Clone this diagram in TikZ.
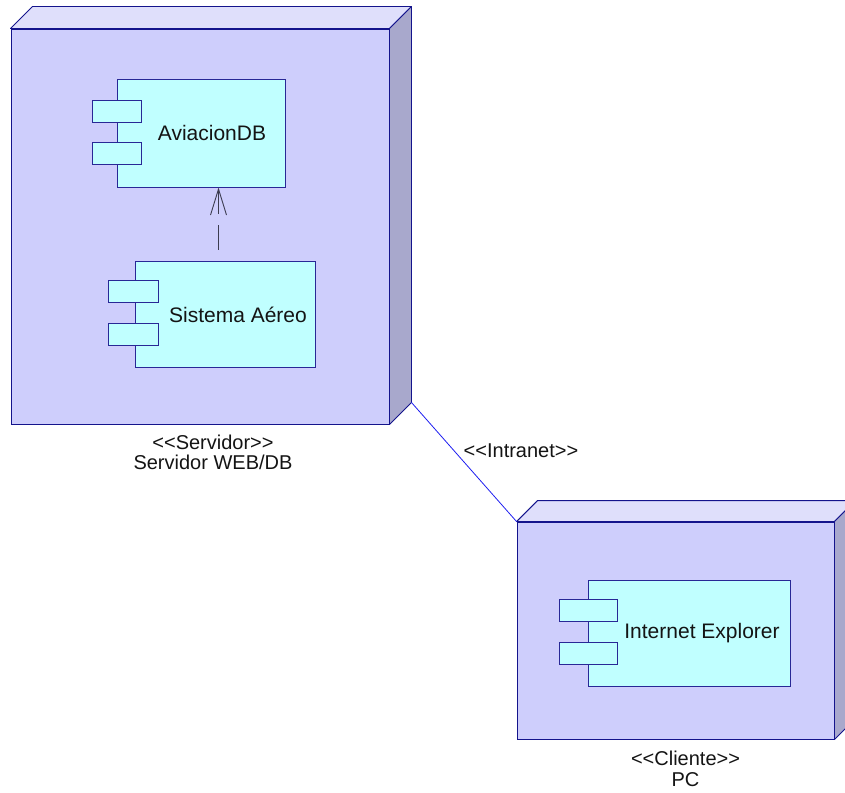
\documentclass[tikz,border=0pt]{standalone}
\usepackage{fontspec}
\setmainfont{Liberation Sans}[Ligatures=TeXOff]
\usetikzlibrary{arrows.meta,calc}

\definecolor{nodefront}{RGB}{206,206,252}
\definecolor{nodetop}{RGB}{223,223,251}
\definecolor{nodeside}{RGB}{168,168,204}
\definecolor{nodeedge}{RGB}{20,20,140}
\definecolor{compfill}{RGB}{192,255,255}
\definecolor{compedge}{RGB}{40,40,150}
\definecolor{linkblue}{RGB}{30,30,240}
\definecolor{depgray}{RGB}{60,60,80}

\tikzset{
  nodebox/.style={draw=nodeedge, fill=nodefront, line width=0.9pt, inner sep=0pt},
  topface/.style={draw=nodeedge, fill=nodetop, line width=0.9pt, line join=round},
  sideface/.style={draw=nodeedge, fill=nodeside, line width=0.9pt, line join=round},
  comp/.style={draw=compedge, fill=compfill, line width=1pt, inner sep=0pt},
  comptab/.style={comp, minimum height=22pt},
  lbl/.style={font=\fontsize{20}{20}\selectfont, text=black!92, inner sep=0pt, align=center},
  comptxt/.style={lbl, font=\fontsize{21}{21}\selectfont},
  link/.style={draw=linkblue, line width=0.8pt},
  dep/.style={draw=depgray, line width=0.9pt, dash pattern=on 25pt off 11pt, dash phase=25pt,
              -{Straight Barb[length=26pt,width=16pt]}}
}

\begin{document}
\begin{tikzpicture}[x=1pt,y=-1pt]
\clip (0,0) rectangle (845,792);

% server node: front face, top face, side face
\node[nodebox, minimum width=378pt, minimum height=395pt] (srv) at (200,226.5) {};
\draw[topface] (srv.north west) -- ++(22,-22) -- ($(srv.north east)+(22,-22)$) -- (srv.north east) -- cycle;
\draw[sideface] (srv.north east) -- ++(22,-22) -- ($(srv.south east)+(22,-22)$) -- (srv.south east) -- cycle;

% client node
\node[nodebox, minimum width=317pt, minimum height=217pt] (cli) at (675.5,630.5) {};
\draw[topface] (cli.north west) -- ++(21,-21) -- ($(cli.north east)+(21,-21)$) -- (cli.north east) -- cycle;
\draw[sideface] (cli.north east) -- ++(21,-21) -- ($(cli.south east)+(21,-21)$) -- (cli.south east) -- cycle;

% component AviacionDB
\node[comp, minimum width=168pt, minimum height=108pt] (db) at (201,133) {};
\node[comptab, minimum width=49pt] (dbtabA) at ($(db.north west)+(0.5,33)$) {};
\node[comptab, minimum width=49pt] (dbtabB) at ($(db.north west)+(0.5,75)$) {};
\node[comptxt] (dbtxt) at ($(db.center)+(11,0)$) {AviacionDB};

% component Sistema Aéreo
\node[comp, minimum width=180pt, minimum height=106pt] (sis) at (225,314) {};
\node[comptab, minimum width=50pt] (sistabA) at ($(sis.north west)+(-1,31)$) {};
\node[comptab, minimum width=50pt] (sistabB) at ($(sis.north west)+(-1,74)$) {};
\node[comptxt] (sistxt) at ($(sis.center)+(13,1)$) {Sistema Aéreo};

% component Internet Explorer
\node[comp, minimum width=202pt, minimum height=106pt] (ie) at (689,633) {};
\node[comptab, minimum width=58pt] (ietabA) at ($(ie.north west)+(1,31)$) {};
\node[comptab, minimum width=58pt] (ietabB) at ($(ie.north west)+(1,74)$) {};
\node[comptxt] (ietxt) at ($(ie.center)+(13,0)$) {Internet Explorer};

% dependency Sistema Aéreo -> AviacionDB
\coordinate (depfrom) at ($(sis.north west)+(84,0)$);
\coordinate (depto) at ($(db.south west)+(102,0)$);
\draw[dep] (depfrom) -- (depto);

% communication link
\coordinate (srvfoot) at ($(srv.south east)+(22,-22)$);
\draw[link] (srvfoot) -- (cli.north west);
\node[lbl] (netlbl) at (521,451) {<<Intranet>>};

% node labels
\node[lbl] (srvlbl) at ($(srv.south)+(13,28)$) {<<Servidor>>\\Servidor WEB/DB};
\node[lbl, font=\fontsize{20}{21}\selectfont] (clilbl) at ($(cli.south)+(10,29)$) {<<Cliente>>\\PC};
\end{tikzpicture}
\end{document}
